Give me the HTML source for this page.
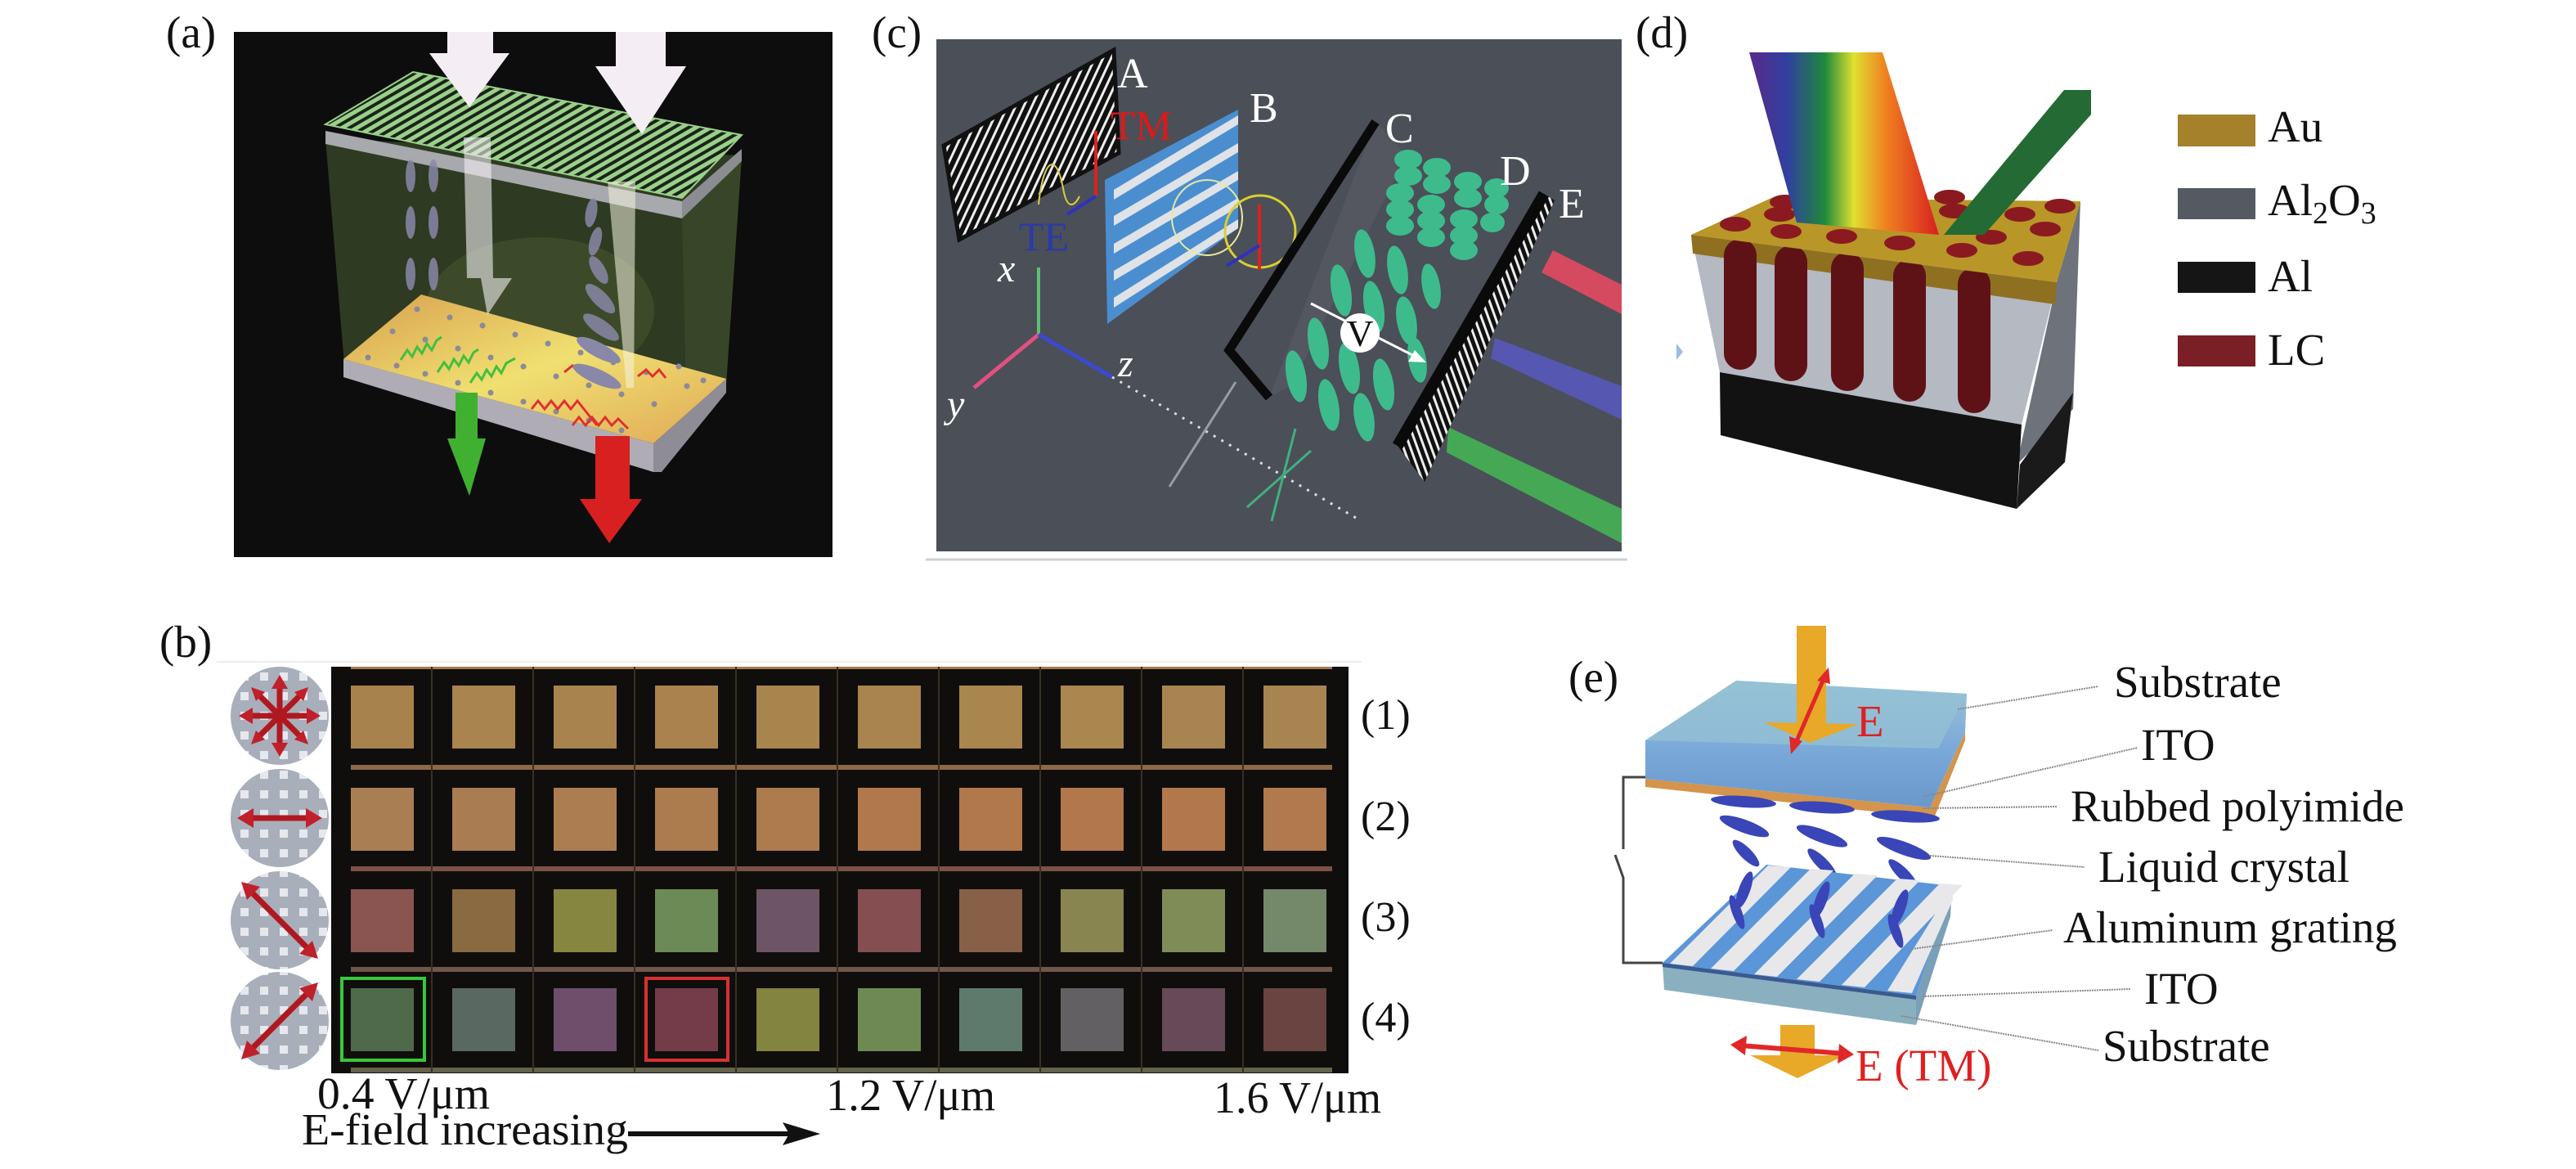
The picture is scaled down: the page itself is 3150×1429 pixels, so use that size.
<!DOCTYPE html>
<html><head><meta charset="utf-8"><style>
html,body{margin:0;padding:0;background:#fff;}
svg{display:block;}
svg text{font-family:"Liberation Serif","DejaVu Serif",serif;}
</style></head><body>
<svg width="3150" height="1429" viewBox="0 0 3150 1429" xmlns="http://www.w3.org/2000/svg" font-family="'Liberation Serif', 'DejaVu Serif', serif">
<defs>
<linearGradient id="rb" x1="0" y1="0" x2="1" y2="0">
<stop offset="0" stop-color="#5a2a8a"/><stop offset="0.2" stop-color="#3040a0"/><stop offset="0.4" stop-color="#1e8a3a"/><stop offset="0.55" stop-color="#e0e030"/><stop offset="0.72" stop-color="#f08020"/><stop offset="1" stop-color="#d82020"/>
</linearGradient>
<linearGradient id="orng" x1="0" y1="0" x2="1" y2="1">
<stop offset="0" stop-color="#d8a050"/><stop offset="0.5" stop-color="#f0e070"/><stop offset="1" stop-color="#e0a858"/>
</linearGradient>
<linearGradient id="slab" x1="0" y1="0" x2="0" y2="1">
<stop offset="0" stop-color="#9cc4d8"/><stop offset="0.55" stop-color="#7aa8d8"/><stop offset="1" stop-color="#6a98cc"/>
</linearGradient>
<pattern id="dots" width="24" height="24" patternUnits="userSpaceOnUse"><rect width="24" height="24" fill="#a9aebb"/><rect x="6" y="6" width="10" height="10" fill="#e6e8ee"/></pattern>
<pattern id="astr" width="9" height="9" patternUnits="userSpaceOnUse" patternTransform="rotate(25)"><rect width="9" height="9" fill="#111"/><rect width="3" height="9" fill="#eee"/></pattern>
<pattern id="estr" width="8" height="8" patternUnits="userSpaceOnUse" patternTransform="rotate(-20)"><rect width="8" height="8" fill="#111"/><rect width="3" height="8" fill="#eee"/></pattern>
<pattern id="gstr" width="9" height="9" patternUnits="userSpaceOnUse" patternTransform="rotate(60)"><rect width="9" height="9" fill="#1a2418"/><rect width="5" height="9" fill="#9ad08a"/></pattern>
</defs>

<!-- ===== (a) ===== -->
<text x="203" y="58" font-size="55" fill="#111">(a)</text>
<rect x="286" y="39" width="732" height="642" fill="#0d0d0d"/>
<polygon points="398,170 907,190 888,470 422,458" fill="#2e3a22"/>
<polygon points="834,262 907,192 888,470 840,520" fill="#3a4a2a" opacity="0.8"/>
<ellipse cx="660" cy="380" rx="140" ry="90" fill="#556a3a" opacity="0.35"/>
<polygon points="398,160 834,246 834,267 398,176" fill="#a7a9ad"/>
<polygon points="834,246 907,182 907,197 834,267" fill="#8b8d92"/>
<polygon points="398,152 505,88 907,165 834,242" fill="url(#gstr)" stroke="#9ad08a" stroke-width="2"/>
<g fill="#8a88a8" opacity="0.85">
<ellipse cx="502" cy="215" rx="6" ry="20"/><ellipse cx="530" cy="215" rx="6" ry="20"/>
<ellipse cx="502" cy="272" rx="6" ry="20"/><ellipse cx="530" cy="272" rx="6" ry="20"/>
<ellipse cx="502" cy="335" rx="6" ry="20"/><ellipse cx="530" cy="335" rx="6" ry="20"/>
<ellipse cx="510" cy="395" rx="6" ry="20"/><ellipse cx="538" cy="400" rx="6" ry="20"/>
<ellipse cx="723" cy="260" rx="7" ry="18" transform="rotate(10 723 260)"/>
<ellipse cx="728" cy="295" rx="7" ry="18" transform="rotate(15 728 295)"/>
<ellipse cx="732" cy="330" rx="8" ry="19" transform="rotate(-30 732 330)"/>
<ellipse cx="734" cy="365" rx="9" ry="24" transform="rotate(-45 734 365)"/>
<ellipse cx="735" cy="400" rx="9" ry="26" transform="rotate(-55 735 400)"/>
<ellipse cx="740" cy="435" rx="10" ry="30" transform="rotate(-60 740 435)"/>
<ellipse cx="735" cy="470" rx="10" ry="32" transform="rotate(-65 735 470)"/>
</g>
<polygon points="420,439 420,461 799,577 799,542" fill="#b0acb6"/>
<polygon points="799,542 888,463 888,480 809,577 799,577" fill="#8e8c95"/>
<polygon points="420,439 515,360 888,463 799,542" fill="url(#orng)"/>
<g fill="#8a8a98">
<circle cx="450" cy="437" r="3.5"/><circle cx="485" cy="447" r="3.5"/><circle cx="520" cy="457" r="3.5"/><circle cx="560" cy="468" r="3.5"/><circle cx="600" cy="480" r="3.5"/><circle cx="640" cy="491" r="3.5"/><circle cx="680" cy="503" r="3.5"/><circle cx="720" cy="514" r="3.5"/><circle cx="760" cy="526" r="3.5"/>
<circle cx="480" cy="405" r="3.5"/><circle cx="520" cy="415" r="3.5"/><circle cx="560" cy="426" r="3.5"/><circle cx="600" cy="437" r="3.5"/><circle cx="640" cy="448" r="3.5"/><circle cx="680" cy="460" r="3.5"/><circle cx="720" cy="471" r="3.5"/><circle cx="760" cy="482" r="3.5"/><circle cx="800" cy="494" r="3.5"/><circle cx="840" cy="472" r="3.5"/>
<circle cx="510" cy="378" r="3.5"/><circle cx="550" cy="388" r="3.5"/><circle cx="590" cy="398" r="3.5"/><circle cx="630" cy="409" r="3.5"/><circle cx="670" cy="420" r="3.5"/><circle cx="710" cy="431" r="3.5"/><circle cx="750" cy="443" r="3.5"/><circle cx="790" cy="455" r="3.5"/><circle cx="830" cy="448" r="3.5"/><circle cx="860" cy="465" r="3.5"/>
</g>
<g fill="none" stroke="#40c040" stroke-width="3">
<polyline points="490,440 498,428 504,436 510,424 516,432 522,420 528,428 534,416 540,412"/>
<polyline points="535,455 543,443 549,451 555,439 561,447 567,435 573,443 579,431 585,427"/>
<polyline points="575,468 583,456 589,464 595,452 601,460 607,448 613,456 619,444 630,438"/>
</g>
<g fill="none" stroke="#e03030" stroke-width="3">
<polyline points="650,500 658,490 666,500 674,490 682,500 690,490 698,500 706,490 714,500 722,510 730,520"/>
<polyline points="700,520 708,510 716,520 724,510 732,520 740,510 748,520 756,512 768,524"/>
<polyline points="690,455 700,447 708,455 716,447"/>
<polyline points="780,460 790,452 798,460 806,452 814,462"/>
</g>
<ellipse cx="732" cy="428" rx="9" ry="30" transform="rotate(-62 732 428)" fill="#8a88a8"/>
<ellipse cx="730" cy="460" rx="9" ry="32" transform="rotate(-66 730 460)" fill="#8a88a8"/>
<polygon points="567,168 600,168 603,340 626,340 596,385 588,340 571,340" fill="#f4f0f4" opacity="0.6"/>
<polygon points="743,222 777,222 775,474 766,474" fill="#f6f4e0" opacity="0.55"/>
<polygon points="547,39 603,39 603,65 623,65 574,131 525,65 547,65" fill="#f4eef4"/>
<polygon points="753,39 814,39 814,81 839,81 785,164 728,81 753,81" fill="#f4eef4"/>
<polygon points="557,480 584,480 584,536 594,536 574,606 547,536 557,536" fill="#40b030"/>
<polygon points="728,533 770,533 770,610 785,610 745,664 709,610 728,610" fill="#d82020"/>

<!-- ===== (c) ===== -->
<text x="1066" y="58" font-size="55" fill="#111">(c)</text>
<rect x="1145" y="48" width="838" height="626" fill="#4b4f57"/>
<line x1="1132" y1="684" x2="1990" y2="684" stroke="#cfd0d4" stroke-width="3"/>
<polygon points="1154,178 1362,61 1368,187 1173,293" fill="url(#astr)" stroke="#111" stroke-width="5"/>
<text x="1366" y="107" font-size="52" fill="#fff">A</text>
<path d="M1270,250 C1275,200 1290,180 1300,230 C1305,260 1315,250 1320,240" fill="none" stroke="#d8d040" stroke-width="2"/>
<line x1="1340" y1="240" x2="1340" y2="160" stroke="#e02020" stroke-width="4"/>
<line x1="1340" y1="240" x2="1305" y2="262" stroke="#3030c0" stroke-width="4"/>
<text x="1358" y="170" font-size="50" fill="#e01818">TM</text>
<text x="1246" y="306" font-size="50" fill="#2a3aa8">TE</text>
<polygon points="1351,220 1514,134 1514,279 1354,396" fill="#4a8ed0"/>
<g fill="#dfe2e6">
<polygon points="1362,232 1514,141 1514,152 1362,244"/>
<polygon points="1362,264 1514,175 1514,186 1362,276"/>
<polygon points="1362,298 1514,209 1514,220 1362,310"/>
<polygon points="1362,331 1514,242 1514,253 1362,343"/>
<polygon points="1362,364 1514,268 1514,279 1362,376"/>
</g>
<text x="1528" y="149" font-size="52" fill="#fff">B</text>
<ellipse cx="1476" cy="266" rx="43" ry="46" fill="none" stroke="#e8e8a0" stroke-width="2"/>
<ellipse cx="1541" cy="283" rx="43" ry="44" fill="none" stroke="#d8d030" stroke-width="3"/>
<line x1="1540" y1="330" x2="1540" y2="250" stroke="#e02020" stroke-width="4"/>
<line x1="1540" y1="300" x2="1500" y2="325" stroke="#3030c0" stroke-width="4"/>
<line x1="1270" y1="409" x2="1270" y2="327" stroke="#5cc070" stroke-width="4"/>
<line x1="1270" y1="409" x2="1191" y2="474" stroke="#e05080" stroke-width="5"/>
<line x1="1270" y1="409" x2="1360" y2="461" stroke="#3a4ad0" stroke-width="5"/>
<text x="1220" y="344" font-size="48" font-style="italic" fill="#fff">x</text>
<text x="1158" y="510" font-size="48" font-style="italic" fill="#fff">y</text>
<text x="1367" y="460" font-size="48" font-style="italic" fill="#fff">z</text>
<line x1="1360" y1="461" x2="1658" y2="633" stroke="#ddd" stroke-width="3" stroke-dasharray="3,8"/>
<line x1="1430" y1="595" x2="1511" y2="467" stroke="#9a9ca0" stroke-width="3"/>
<line x1="1525" y1="620" x2="1603" y2="551" stroke="#40b080" stroke-width="3"/>
<line x1="1555" y1="637" x2="1584" y2="524" stroke="#40b080" stroke-width="3"/>
<polygon points="1682,149 1720,190 1580,470 1552,486" fill="#5a5e66" opacity="0.6"/>
<polyline points="1682,149 1503,428 1552,486" fill="none" stroke="#0a0a0a" stroke-width="11"/>
<text x="1694" y="174" font-size="52" fill="#fff">C</text>
<g fill="#3dbb8c">
<ellipse cx="1722" cy="195" rx="17" ry="12"/><ellipse cx="1722" cy="215" rx="17" ry="12"/>
<ellipse cx="1712" cy="236" rx="17" ry="12"/><ellipse cx="1712" cy="256" rx="17" ry="12"/><ellipse cx="1712" cy="276" rx="17" ry="12"/>
<ellipse cx="1757" cy="205" rx="17" ry="12"/><ellipse cx="1757" cy="225" rx="17" ry="12"/>
<ellipse cx="1750" cy="250" rx="17" ry="12"/><ellipse cx="1750" cy="270" rx="17" ry="12"/><ellipse cx="1750" cy="290" rx="17" ry="12"/>
<ellipse cx="1795" cy="222" rx="17" ry="12"/><ellipse cx="1795" cy="242" rx="17" ry="12"/><ellipse cx="1790" cy="268" rx="17" ry="12"/><ellipse cx="1790" cy="288" rx="17" ry="12"/><ellipse cx="1790" cy="306" rx="17" ry="12"/>
<ellipse cx="1830" cy="230" rx="15" ry="12"/><ellipse cx="1830" cy="250" rx="15" ry="12"/><ellipse cx="1825" cy="272" rx="15" ry="12"/>
</g>
<text x="1834" y="226" font-size="52" fill="#fff">D</text>
<g fill="#3dbb8c">
<ellipse cx="1669" cy="310" rx="12" ry="30" transform="rotate(-10 1669 310)"/>
<ellipse cx="1709" cy="330" rx="12" ry="30" transform="rotate(-10 1709 330)"/>
<ellipse cx="1750" cy="350" rx="11" ry="28" transform="rotate(-10 1750 350)"/>
<ellipse cx="1640" cy="355" rx="12" ry="32" transform="rotate(-10 1640 355)"/>
<ellipse cx="1680" cy="375" rx="12" ry="32" transform="rotate(-10 1680 375)"/>
<ellipse cx="1720" cy="392" rx="12" ry="30" transform="rotate(-10 1720 392)"/>
<ellipse cx="1612" cy="420" rx="12" ry="32" transform="rotate(-10 1612 420)"/>
<ellipse cx="1650" cy="450" rx="12" ry="32" transform="rotate(-10 1650 450)"/>
<ellipse cx="1692" cy="470" rx="12" ry="32" transform="rotate(-10 1692 470)"/>
<ellipse cx="1585" cy="460" rx="12" ry="32" transform="rotate(-10 1585 460)"/>
<ellipse cx="1625" cy="495" rx="12" ry="32" transform="rotate(-10 1625 495)"/>
<ellipse cx="1668" cy="510" rx="12" ry="30" transform="rotate(-10 1668 510)"/>
<ellipse cx="1733" cy="440" rx="11" ry="28" transform="rotate(-10 1733 440)"/>
</g>
<line x1="1603" y1="371" x2="1735" y2="438" stroke="#fff" stroke-width="3"/>
<polygon points="1744,443 1722,442 1730,428" fill="#fff"/>
<circle cx="1663" cy="407" r="24" fill="#fff"/>
<text x="1663" y="423" font-size="46" fill="#111" text-anchor="middle">V</text>
<polygon points="1899,306 1983,348 1983,384 1885,333" fill="#d64a60"/>
<polygon points="1828,413 1983,472 1983,513 1823,438" fill="#5557b0"/>
<polygon points="1771,522 1983,622 1983,664 1769,553" fill="#45a855"/>
<polygon points="1888,237 1901,245 1742,589 1709,545" fill="url(#estr)"/>
<line x1="1888" y1="237" x2="1709" y2="545" stroke="#0a0a0a" stroke-width="14"/>
<text x="1906" y="266" font-size="52" fill="#fff">E</text>

<!-- ===== (d) ===== -->
<text x="2000" y="58" font-size="55" fill="#111">(d)</text>
<polygon points="2515,345 2544,246 2535,500 2466,568" fill="#6e727a"/>
<polygon points="2535,480 2525,565 2466,622 2470,568" fill="#1a1a1a"/>
<polygon points="2068,287 2515,345 2472,519 2103,455" fill="#b4b9c2"/>
<polygon points="2103,455 2472,519 2466,622 2104,532" fill="#121212"/>
<polygon points="2068,287 2515,345 2513,372 2070,310" fill="#8e7020"/>
<g fill="#5e1216">
<rect x="2108" y="292" width="40" height="160" rx="20"/>
<rect x="2170" y="300" width="40" height="166" rx="20"/>
<rect x="2239" y="308" width="40" height="170" rx="20"/>
<rect x="2315" y="317" width="40" height="174" rx="20"/>
<rect x="2394" y="327" width="40" height="178" rx="20"/>
</g>
<polygon points="2068,287 2166,242 2544,246 2515,345" fill="#b89628"/>
<g fill="#8a1a20">
<ellipse cx="2122" cy="274" rx="19" ry="9"/><ellipse cx="2184" cy="283" rx="19" ry="9"/><ellipse cx="2252" cy="289" rx="19" ry="9"/><ellipse cx="2323" cy="297" rx="19" ry="9"/><ellipse cx="2399" cy="306" rx="19" ry="9"/><ellipse cx="2480" cy="316" rx="19" ry="9"/>
<ellipse cx="2176" cy="262" rx="19" ry="9"/><ellipse cx="2310" cy="272" rx="19" ry="9"/><ellipse cx="2435" cy="290" rx="19" ry="9"/><ellipse cx="2501" cy="280" rx="19" ry="9"/>
<ellipse cx="2183" cy="247" rx="19" ry="9"/><ellipse cx="2390" cy="258" rx="19" ry="9"/><ellipse cx="2470" cy="262" rx="19" ry="9"/><ellipse cx="2519" cy="252" rx="19" ry="9"/><ellipse cx="2384" cy="241" rx="19" ry="9"/>
</g>
<polygon points="2139,64 2302,64 2371,287 2197,272" fill="url(#rb)"/>
<polygon points="2524,110 2557,110 2557,140 2426,287 2377,287" fill="#236a34"/>
<polygon points="2050,420 2050,440 2058,430" fill="#9bbce0"/>
<rect x="2663" y="140" width="95" height="39" fill="#a4812a"/>
<rect x="2663" y="230" width="95" height="38" fill="#555a62"/>
<rect x="2663" y="320" width="95" height="38" fill="#151515"/>
<rect x="2663" y="410" width="95" height="38" fill="#7a1f25"/>
<text x="2773" y="173" font-size="55" fill="#111">Au</text>
<text x="2773" y="263" font-size="55" fill="#111">Al<tspan font-size="38" dy="10">2</tspan><tspan dy="-10">O</tspan><tspan font-size="38" dy="10">3</tspan></text>
<text x="2773" y="356" font-size="55" fill="#111">Al</text>
<text x="2773" y="446" font-size="55" fill="#111">LC</text>

<!-- ===== (b) ===== -->
<text x="195" y="803" font-size="55" fill="#111">(b)</text>
<line x1="265" y1="809" x2="1665" y2="809" stroke="#eee" stroke-width="2"/>
<rect x="405" y="815" width="1244" height="497" fill="#100e0c"/>
<rect x="429" y="815" width="1200" height="3" fill="#c89860" opacity="0.8"/>
<g opacity="0.75">
<rect x="429" y="935" width="1200" height="6" fill="#b8875a"/>
<rect x="429" y="1059" width="1200" height="6" fill="#a0685a"/>
<rect x="429" y="1182" width="1200" height="6" fill="#907060"/>
<rect x="429" y="1305" width="1200" height="6" fill="#808060"/>
</g>
<g stroke="#3a3020" stroke-width="2">
<line x1="528" y1="815" x2="528" y2="1312"/><line x1="652" y1="815" x2="652" y2="1312"/><line x1="776" y1="815" x2="776" y2="1312"/><line x1="900" y1="815" x2="900" y2="1312"/><line x1="1024" y1="815" x2="1024" y2="1312"/><line x1="1148" y1="815" x2="1148" y2="1312"/><line x1="1272" y1="815" x2="1272" y2="1312"/><line x1="1396" y1="815" x2="1396" y2="1312"/><line x1="1520" y1="815" x2="1520" y2="1312"/>
</g>
<g>
<rect x="429" y="838" width="77" height="77" fill="#a8824c"/><rect x="553" y="838" width="77" height="77" fill="#a9844e"/><rect x="677" y="838" width="77" height="77" fill="#a8834d"/><rect x="801" y="838" width="77" height="77" fill="#a9824e"/><rect x="925" y="838" width="77" height="77" fill="#a9854e"/><rect x="1049" y="838" width="77" height="77" fill="#a9844f"/><rect x="1173" y="838" width="77" height="77" fill="#aa864f"/><rect x="1297" y="838" width="77" height="77" fill="#a9874f"/><rect x="1421" y="838" width="77" height="77" fill="#a88550"/><rect x="1545" y="838" width="77" height="77" fill="#a88550"/>
<rect x="429" y="963" width="77" height="77" fill="#a97e52"/><rect x="553" y="963" width="77" height="77" fill="#aa7c52"/><rect x="677" y="963" width="77" height="77" fill="#ab7d50"/><rect x="801" y="963" width="77" height="77" fill="#ac7c4f"/><rect x="925" y="963" width="77" height="77" fill="#ad7b4e"/><rect x="1049" y="963" width="77" height="77" fill="#b0784c"/><rect x="1173" y="963" width="77" height="77" fill="#b1784b"/><rect x="1297" y="963" width="77" height="77" fill="#b2774a"/><rect x="1421" y="963" width="77" height="77" fill="#b2784b"/><rect x="1545" y="963" width="77" height="77" fill="#b07a4e"/>
<rect x="429" y="1087" width="77" height="77" fill="#8a5550"/><rect x="553" y="1087" width="77" height="77" fill="#8a6a40"/><rect x="677" y="1087" width="77" height="77" fill="#868640"/><rect x="801" y="1087" width="77" height="77" fill="#6c8a55"/><rect x="925" y="1087" width="77" height="77" fill="#6e5565"/><rect x="1049" y="1087" width="77" height="77" fill="#854e50"/><rect x="1173" y="1087" width="77" height="77" fill="#886048"/><rect x="1297" y="1087" width="77" height="77" fill="#888550"/><rect x="1421" y="1087" width="77" height="77" fill="#808c58"/><rect x="1545" y="1087" width="77" height="77" fill="#74886a"/>
<rect x="429" y="1208" width="77" height="77" fill="#4e6a4a"/><rect x="553" y="1208" width="77" height="77" fill="#5a6862"/><rect x="677" y="1208" width="77" height="77" fill="#6e4e6a"/><rect x="801" y="1208" width="77" height="77" fill="#743c48"/><rect x="925" y="1208" width="77" height="77" fill="#828440"/><rect x="1049" y="1208" width="77" height="77" fill="#6e8a52"/><rect x="1173" y="1208" width="77" height="77" fill="#5e7a6c"/><rect x="1297" y="1208" width="77" height="77" fill="#626062"/><rect x="1421" y="1208" width="77" height="77" fill="#664a58"/><rect x="1545" y="1208" width="77" height="77" fill="#6a4440"/>
</g>
<rect x="418" y="1196" width="101" height="100" fill="none" stroke="#36c83a" stroke-width="4"/>
<rect x="790" y="1196" width="100" height="100" fill="none" stroke="#d83030" stroke-width="4"/>
<circle cx="342" cy="875" r="60" fill="url(#dots)"/>
<circle cx="342" cy="1000" r="60" fill="url(#dots)"/>
<circle cx="342" cy="1125" r="60" fill="url(#dots)"/>
<circle cx="342" cy="1248" r="60" fill="url(#dots)"/>
<g stroke="#b01820" stroke-width="7" fill="#c0202a">
<line x1="342" y1="835" x2="342" y2="915"/><line x1="302" y1="875" x2="382" y2="875"/><line x1="314" y1="847" x2="370" y2="903"/><line x1="370" y1="847" x2="314" y2="903"/>
<polygon points="342,825 332,842 352,842" stroke="none"/><polygon points="342,925 332,908 352,908" stroke="none"/><polygon points="292,875 309,865 309,885" stroke="none"/><polygon points="392,875 375,865 375,885" stroke="none"/>
<polygon points="307,840 324,846 313,857" stroke="none"/><polygon points="377,840 360,846 371,857" stroke="none"/><polygon points="307,910 313,893 324,904" stroke="none"/><polygon points="377,910 371,893 360,904" stroke="none"/>
<line x1="305" y1="1000" x2="379" y2="1000"/><polygon points="290,1000 310,988 310,1012" stroke="none"/><polygon points="394,1000 374,988 374,1012" stroke="none"/>
<line x1="305" y1="1088" x2="379" y2="1162"/><polygon points="295,1078 318,1084 302,1100" stroke="none"/><polygon points="389,1172 366,1166 382,1150" stroke="none"/>
<line x1="305" y1="1285" x2="379" y2="1211"/><polygon points="295,1295 302,1272 318,1288" stroke="none"/><polygon points="389,1201 382,1224 366,1208" stroke="none"/>
</g>
<text x="1664" y="891" font-size="52" fill="#111">(1)</text>
<text x="1664" y="1015" font-size="52" fill="#111">(2)</text>
<text x="1664" y="1138" font-size="52" fill="#111">(3)</text>
<text x="1664" y="1261" font-size="52" fill="#111">(4)</text>
<text x="388" y="1355" font-size="55" fill="#111" textLength="211" lengthAdjust="spacingAndGlyphs">0.4 V/μm</text>
<text x="1010" y="1357" font-size="55" fill="#111" textLength="207" lengthAdjust="spacingAndGlyphs">1.2 V/μm</text>
<text x="1484" y="1360" font-size="55" fill="#111" textLength="205" lengthAdjust="spacingAndGlyphs">1.6 V/μm</text>
<text x="369" y="1399" font-size="55" fill="#111" textLength="399" lengthAdjust="spacingAndGlyphs">E-field increasing</text>
<line x1="768" y1="1386" x2="965" y2="1386" stroke="#111" stroke-width="6"/>
<polygon points="1003,1386 957,1372 965,1386 957,1400" fill="#111"/>

<!-- ===== (e) ===== -->
<text x="1918" y="846" font-size="55" fill="#111">(e)</text>
<polyline points="2012,950 1985,950 1985,1038" fill="none" stroke="#444" stroke-width="3"/>
<polyline points="1975,1045 1985,1073 1985,1177 2033,1177" fill="none" stroke="#444" stroke-width="3"/>
<polygon points="2012,952 2360,987 2403,895 2403,905 2365,1000 2012,962" fill="#d4944c"/>
<polygon points="2012,905 2123,832 2405,848 2403,895 2360,987 2012,952" fill="url(#slab)"/>
<polygon points="2012,905 2123,832 2405,848 2370,915" fill="#93c0d4" opacity="0.8"/>
<rect x="2197" y="765" width="36" height="120" fill="#e8a828"/>
<polygon points="2157,883 2273,885 2213,908" fill="#e8a828"/>
<line x1="2233" y1="823" x2="2193" y2="915" stroke="#e02828" stroke-width="5"/>
<polygon points="2236,816 2222,832 2238,836" fill="#e02828"/><polygon points="2190,922 2188,900 2204,906" fill="#e02828"/>
<text x="2270" y="900" font-size="55" fill="#e02020">E</text>
<g fill="#3a45b8">
<ellipse cx="2132" cy="980" rx="40" ry="7" transform="rotate(4 2132 980)"/><ellipse cx="2228" cy="987" rx="40" ry="7" transform="rotate(4 2228 987)"/><ellipse cx="2330" cy="998" rx="42" ry="7" transform="rotate(4 2330 998)"/>
<ellipse cx="2133" cy="1010" rx="32" ry="8" transform="rotate(20 2133 1010)"/><ellipse cx="2228" cy="1022" rx="33" ry="8" transform="rotate(20 2228 1022)"/><ellipse cx="2328" cy="1037" rx="35" ry="8" transform="rotate(20 2328 1037)"/>
<ellipse cx="2135" cy="1043" rx="22" ry="7" transform="rotate(45 2135 1043)"/><ellipse cx="2228" cy="1055" rx="24" ry="7" transform="rotate(45 2228 1055)"/><ellipse cx="2327" cy="1068" rx="24" ry="7" transform="rotate(45 2327 1068)"/>
</g>
<polygon points="2033,1177 2343,1217 2343,1253 2035,1210" fill="#8ab0c0"/>
<polygon points="2343,1217 2387,1083 2385,1120 2343,1253" fill="#7aa0b8"/>
<polygon points="2033,1177 2343,1217 2343,1222 2033,1182" fill="#3a5a90"/>
<polygon points="2033,1177 2160,1057 2387,1083 2343,1217" fill="#5a96d8"/>
<g fill="#e8e8ea">
<polygon points="2042,1178 2070,1181 2190,1060 2162,1058"/>
<polygon points="2092,1184 2120,1187 2242,1064 2214,1062"/>
<polygon points="2145,1191 2173,1194 2296,1070 2268,1068"/>
<polygon points="2197,1197 2225,1200 2348,1076 2320,1074"/>
<polygon points="2252,1204 2280,1207 2400,1082 2372,1080"/>
<polygon points="2308,1211 2338,1214 2388,1100 2387,1084"/>
</g>
<g fill="#3a45b8">
<ellipse cx="2133" cy="1088" rx="24" ry="7" transform="rotate(-70 2133 1088)"/><ellipse cx="2227" cy="1100" rx="24" ry="7" transform="rotate(-70 2227 1100)"/><ellipse cx="2323" cy="1110" rx="24" ry="7" transform="rotate(-70 2323 1110)"/>
<ellipse cx="2124" cy="1115" rx="22" ry="6" transform="rotate(-110 2124 1115)"/><ellipse cx="2222" cy="1126" rx="22" ry="6" transform="rotate(-110 2222 1126)"/><ellipse cx="2318" cy="1138" rx="22" ry="6" transform="rotate(-110 2318 1138)"/>
</g>
<rect x="2177" y="1253" width="42" height="38" fill="#e8a828"/>
<polygon points="2140,1290 2256,1290 2198,1318" fill="#e8a828"/>
<line x1="2128" y1="1278" x2="2255" y2="1288" stroke="#e02828" stroke-width="6"/>
<polygon points="2116,1277 2136,1266 2134,1290" fill="#e02828"/><polygon points="2267,1289 2247,1300 2249,1276" fill="#e02828"/>
<text x="2269" y="1321" font-size="55" fill="#e02020">E (TM)</text>
<g stroke="#888" stroke-width="2" stroke-dasharray="2,1">
<line x1="2394" y1="867" x2="2566" y2="839"/>
<line x1="2351" y1="974" x2="2614" y2="914"/>
<line x1="2351" y1="988" x2="2515" y2="986"/>
<line x1="2360" y1="1046" x2="2549" y2="1060"/>
<line x1="2338" y1="1160" x2="2510" y2="1137"/>
<line x1="2351" y1="1218" x2="2605" y2="1209"/>
<line x1="2325" y1="1242" x2="2566" y2="1284"/>
</g>
<g font-size="55" fill="#111">
<text x="2585" y="852">Substrate</text>
<text x="2618" y="929">ITO</text>
<text x="2532" y="1004">Rubbed polyimide</text>
<text x="2566" y="1078">Liquid crystal</text>
<text x="2523" y="1152">Aluminum grating</text>
<text x="2622" y="1227">ITO</text>
<text x="2571" y="1297">Substrate</text>
</g>
</svg>
</body></html>
